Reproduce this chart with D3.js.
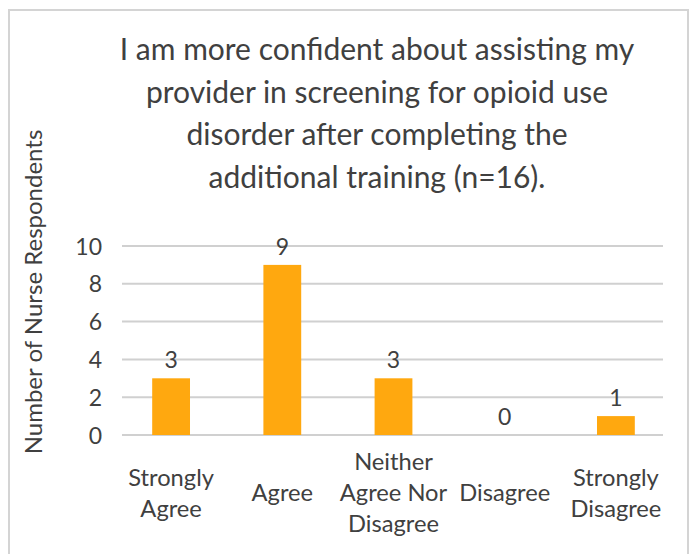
<!DOCTYPE html>
<html>
<head>
<meta charset="utf-8">
<script src="https://cdn.jsdelivr.net/npm/d3@7"></script>
<style>
  body { margin: 0; background: #fff; }
  svg text { font-family: "Source Sans Pro", Lato, "Noto Sans", sans-serif; fill: #404040; }
</style>
</head>
<body>
<div id="wrapper"></div>
<script>
// Dados do gráfico
const categories = ["Strongly Agree", "Agree", "Neither Agree Nor Disagree", "Disagree", "Strongly Disagree"];
const categoryLines = [["Strongly", "Agree"], ["Agree"], ["Neither", "Agree Nor", "Disagree"], ["Disagree"], ["Strongly", "Disagree"]];
const values = [3, 9, 3, 0, 1];
const yTicks = [0, 2, 4, 6, 8, 10];
const titleLines = [
  "I am more confident about assisting my",
  "provider in screening for opioid use",
  "disorder after completing the",
  "additional training (n=16)."
];
const yLabel = "Number of Nurse Respondents";

function draw() {
  const width = 691, height = 554;

  const svg = d3.select("#wrapper")
    .append("svg")
      .attr("width", width)
      .attr("height", height);

  // borda do gráfico
  svg.append("rect")
    .attr("x", 9).attr("y", 10)
    .attr("width", 679).attr("height", 560)
    .attr("fill", "none")
    .attr("stroke", "#d4d4d4")
    .attr("stroke-width", 2);

  // Scales
  const x = d3.scaleBand().domain(categories).range([115.5, 671.5]).paddingInner(0.66).paddingOuter(0.33);
  const y = d3.scaleLinear().domain([0, 10]).range([435, 246]);

  // titulo
  svg.append("g").selectAll("text")
    .data(titleLines)
    .join("text")
      .attr("x", 377)
      .attr("y", (d, i) => 60 + i * 42.5)
      .attr("text-anchor", "middle")
      .style("font-size", "30px")
      .text(d => d);

  // grid
  svg.append("g").selectAll("line")
    .data(yTicks)
    .join("line")
      .attr("x1", 122).attr("x2", 663)
      .attr("y1", d => y(d)).attr("y2", d => y(d))
      .attr("stroke", "#d0d0d0")
      .attr("stroke-width", 2);

  // eixo y
  const yAxis = svg.append("g")
    .attr("transform", "translate(102,0)")
    .call(d3.axisLeft(y).tickValues(yTicks).tickSize(0).tickPadding(0));
  yAxis.select(".domain").remove();
  yAxis.attr("font-family", null).attr("font-size", null);
  yAxis.selectAll("text")
    .attr("dy", "0.35em")
    .style("font-size", "23px");

  svg.append("text")
    .attr("transform", "translate(42,292) rotate(-90)")
    .attr("text-anchor", "middle")
    .style("font-size", "24px")
    .text(yLabel);

  // barras
  svg.append("g").selectAll("rect")
    .data(values)
    .join("rect")
      .attr("x", (d, i) => x(categories[i]))
      .attr("width", x.bandwidth())
      .attr("y", d => y(d))
      .attr("height", d => y(0) - y(d))
      .attr("fill", "#ffa80f");

  // rótulos de dados
  svg.append("g").selectAll("text")
    .data(values)
    .join("text")
      .attr("x", (d, i) => x(categories[i]) + x.bandwidth() / 2)
      .attr("y", d => y(d) - 10)
      .attr("text-anchor", "middle")
      .style("font-size", "23px")
      .text(d => d);

  // rótulos de categoria
  const lineH = 31;
  const catG = svg.append("g").selectAll("text")
    .data(categoryLines)
    .join("text")
      .attr("text-anchor", "middle")
      .style("font-size", "23.7px")
      .attr("transform", (d, i) => "translate(" + (x(categories[i]) + x.bandwidth() / 2) + "," + (501 - (d.length - 1) * lineH / 2) + ")");
  catG.selectAll("tspan")
    .data(d => d)
    .join("tspan")
      .attr("x", 0)
      .attr("y", (d, i) => i * lineH)
      .text(d => d);
}
draw();
</script>
</body>
</html>
